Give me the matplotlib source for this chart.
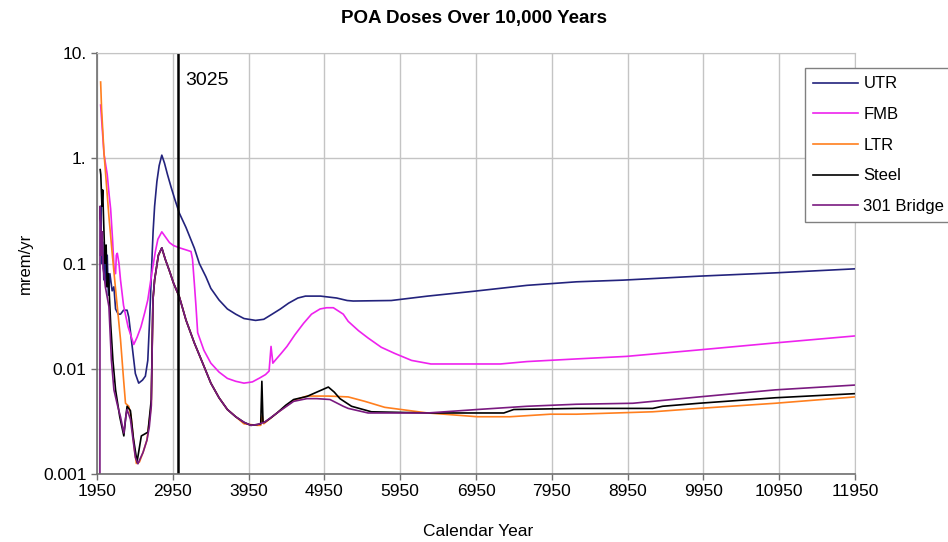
import matplotlib
matplotlib.use("Agg")
import matplotlib.pyplot as plt
from matplotlib.ticker import FixedLocator, FixedFormatter, NullLocator

plt.rcParams["font.family"] = ["Liberation Sans", "DejaVu Sans"]

# ---- data (calendar year, dose in mrem/yr) ----
utr_year = [1995, 2000, 2010, 2025, 2040, 2055, 2070, 2085, 2100, 2120, 2150, 2173,
            2195, 2230, 2260, 2300, 2347, 2369, 2420, 2456, 2500, 2550, 2588, 2620,
            2644, 2670, 2690, 2710, 2740, 2770, 2805, 2840, 2880, 2928, 2980, 3037,
            3124, 3234, 3300, 3386, 3452, 3560, 3670, 3780, 3889, 4042, 4150, 4260,
            4370, 4478, 4600, 4700, 4900, 5111, 5250, 5330, 5832, 6312, 6924, 7622,
            8277, 8889, 9892, 10898, 11950]
utr_dose = [0.12, 0.35, 0.10, 0.16, 0.07, 0.14, 0.06, 0.12, 0.05, 0.08, 0.055, 0.06,
            0.037, 0.033, 0.033, 0.036, 0.036, 0.031, 0.015, 0.009, 0.0073, 0.0078, 0.0085, 0.012,
            0.029, 0.09, 0.2, 0.35, 0.6, 0.85, 1.07, 0.9, 0.7, 0.53, 0.4, 0.3,
            0.22, 0.14, 0.1, 0.075, 0.058, 0.045, 0.037, 0.033, 0.030, 0.0288, 0.0295, 0.033,
            0.037, 0.042, 0.047, 0.049, 0.049, 0.047, 0.0445, 0.044, 0.0445, 0.049, 0.0545, 0.062,
            0.067, 0.0695, 0.0758, 0.0815, 0.089]

fmb_year = [1998, 2042, 2085, 2110, 2130, 2155, 2175, 2195, 2205, 2218, 2240, 2260,
            2300, 2360, 2435, 2480, 2530, 2579, 2620, 2660, 2688, 2720, 2753, 2805,
            2850, 2906, 2960, 3037, 3120, 3190, 3210, 3234, 3255, 3278, 3360, 3452,
            3560, 3670, 3780, 3889, 4000, 4100, 4173, 4220, 4246, 4270, 4300, 4380,
            4456, 4560, 4675, 4780, 4893, 4980, 5068, 5199, 5264, 5400, 5526, 5700,
            5876, 6100, 6355, 7272, 7622, 8277, 8932, 9892, 10898, 11950]
fmb_dose = [3.2, 1.1, 0.7, 0.45, 0.33, 0.17, 0.09, 0.08, 0.12, 0.125, 0.1, 0.07,
            0.04, 0.025, 0.017, 0.02, 0.025, 0.034, 0.045, 0.07, 0.094, 0.13, 0.17, 0.2,
            0.18, 0.158, 0.148, 0.141, 0.135, 0.13, 0.11, 0.065, 0.04, 0.022, 0.015, 0.0113,
            0.0093, 0.0081, 0.0076, 0.0073, 0.0075, 0.0082, 0.0088, 0.0095, 0.0163, 0.0113, 0.012, 0.014,
            0.0163, 0.021, 0.027, 0.033, 0.037, 0.038, 0.038, 0.033, 0.0282, 0.023, 0.0196, 0.016,
            0.014, 0.012, 0.0111, 0.0111, 0.0117, 0.0124, 0.0131, 0.0151, 0.0176, 0.0205]

ltr_year = [1998, 2010, 2042, 2107, 2150, 2195, 2260, 2300, 2326, 2369, 2400, 2440,
            2469, 2510, 2557, 2609, 2666, 2688, 2710, 2760, 2805, 2850, 2906, 2960,
            3037, 3124, 3234, 3340, 3452, 3560, 3670, 3780, 3889, 4063, 4110, 4129,
            4150, 4325, 4544, 4718, 4806, 5002, 5264, 5484, 5746, 5963, 6312, 6530,
            6967, 7400, 7930, 8277, 9281, 9892, 10898, 11950]
ltr_dose = [5.3, 3.0, 1.13, 0.28, 0.126, 0.057, 0.019, 0.008, 0.0047, 0.0044, 0.0035, 0.0018,
            0.00126, 0.0013, 0.0016, 0.0021, 0.0045, 0.045, 0.07, 0.12, 0.14, 0.11, 0.085, 0.065,
            0.048, 0.029, 0.0176, 0.0115, 0.0073, 0.0053, 0.0041, 0.0035, 0.003, 0.0029, 0.0029, 0.0036,
            0.003, 0.0038, 0.005, 0.0055, 0.0055, 0.0055, 0.0054, 0.0049, 0.0043, 0.0041, 0.0038, 0.0037,
            0.0035, 0.0035, 0.0037, 0.0037, 0.0039, 0.0042, 0.0047, 0.0054]

steel_year = [1992, 2000, 2015, 2025, 2042, 2055, 2070, 2085, 2100, 2130, 2160, 2195,
              2250, 2304, 2330, 2347, 2391, 2430, 2478, 2535, 2580, 2622, 2666, 2688,
              2710, 2760, 2805, 2850, 2906, 2960, 3037, 3124, 3234, 3340, 3452, 3560,
              3670, 3780, 3889, 3980, 4063, 4110, 4125, 4140, 4160, 4240, 4325, 4440,
              4544, 4718, 4850, 5002, 5080, 5155, 5308, 5570, 6312, 7317, 7448, 8277,
              9281, 9412, 9892, 10898, 11950]
steel_dose = [0.78, 0.7, 0.35, 0.5, 0.2, 0.1, 0.15, 0.06, 0.08, 0.027, 0.012, 0.0063,
              0.0035, 0.0023, 0.0035, 0.0044, 0.004, 0.0022, 0.0013, 0.0023, 0.0024, 0.0025, 0.0051, 0.045,
              0.07, 0.12, 0.141, 0.11, 0.085, 0.065, 0.048, 0.029, 0.0176, 0.0115, 0.0073, 0.0053,
              0.0041, 0.0035, 0.0031, 0.0029, 0.00295, 0.003, 0.0076, 0.0031, 0.0031, 0.0034, 0.0038, 0.0045,
              0.0051, 0.00545, 0.006, 0.0067, 0.006, 0.0052, 0.0044, 0.0039, 0.0038, 0.0038, 0.0041, 0.0042,
              0.0042, 0.0044, 0.0047, 0.0053, 0.0058]

bridge_year = [1988, 1990, 2000, 2010, 2020, 2030, 2042, 2060, 2080, 2107, 2140, 2173,
               2220, 2260, 2304, 2330, 2347, 2391, 2430, 2456, 2490, 2520, 2557, 2609,
               2640, 2666, 2688, 2710, 2760, 2805, 2850, 2906, 2960, 3037, 3124, 3234,
               3340, 3452, 3560, 3670, 3780, 3889, 3980, 4063, 4160, 4325, 4544, 4718,
               4850, 5024, 5199, 5264, 5526, 6312, 6967, 7622, 8277, 9020, 9892, 10898,
               11950]
bridge_dose = [0.0001, 0.35, 0.25, 0.12, 0.2, 0.09, 0.08, 0.06, 0.05, 0.039, 0.012, 0.0063,
               0.0045, 0.0035, 0.00245, 0.0035, 0.0041, 0.0033, 0.002, 0.00144, 0.00125, 0.0014, 0.0016, 0.0021,
               0.0028, 0.0044, 0.045, 0.07, 0.12, 0.141, 0.11, 0.085, 0.065, 0.048, 0.029, 0.0176,
               0.0115, 0.0073, 0.0053, 0.0041, 0.0035, 0.0031, 0.0029, 0.00295, 0.0031, 0.0038, 0.0049, 0.0052,
               0.0052, 0.0051, 0.0044, 0.0042, 0.0038, 0.0038, 0.0041, 0.0044, 0.0046, 0.0047, 0.0054, 0.0063,
               0.0070]

x_ticks = list(range(1950, 11951, 1000))
y_ticks = [0.001, 0.01, 0.1, 1, 10]
y_labels = ["0.001", "0.01", "0.1", "1.", "10."]
marker_year = 3025

# ---- figure ----
fig = plt.figure(figsize=(9.48, 5.42), dpi=100)
ax = fig.add_axes([97 / 948, 1 - 474 / 542, (855 - 97) / 948, (474 - 53) / 542])

ax.set_yscale("log")
ax.set_xlim(1950, 11950)
ax.set_ylim(0.001, 10)

ax.xaxis.set_major_locator(FixedLocator(x_ticks))
ax.yaxis.set_major_locator(FixedLocator(y_ticks))
ax.yaxis.set_major_formatter(FixedFormatter(y_labels))
ax.yaxis.set_minor_locator(NullLocator())
ax.grid(True, color="#c4c4c4", lw=1.0)
ax.set_axisbelow(True)
ax.tick_params(labelsize=12.5, length=4, width=1, color="#707070", pad=3.5)

for s in ("top", "right"):
    ax.spines[s].set_color("#c4c4c4")
for s in ("left", "bottom"):
    ax.spines[s].set_color("#707070")
    ax.spines[s].set_linewidth(1.2)

lw = 1.2
ax.plot(utr_year, utr_dose, color="#23237d", lw=lw, label="UTR")
ax.plot(fmb_year, fmb_dose, color="#ee22ee", lw=lw, label="FMB")
ax.plot(ltr_year, ltr_dose, color="#ff7f1e", lw=lw, label="LTR")
ax.plot(steel_year, steel_dose, color="black", lw=lw, label="Steel")
ax.plot(bridge_year, bridge_dose, color="#7a1a80", lw=lw, label="301 Bridge")

ax.axvline(marker_year, color="black", lw=1.8)
ax.annotate(str(marker_year), xy=(marker_year, 1.0), xycoords=("data", "axes fraction"),
            xytext=(5, -20), textcoords="offset points", fontsize=14, va="center", ha="left")

fig.text(0.5, 1 - 18 / 542, "POA Doses Over 10,000 Years", ha="center", va="center",
         fontsize=13.5, fontweight="bold")
fig.text(478 / 948, 1 - 531 / 542, "Calendar Year", ha="center", va="center", fontsize=12.5)
fig.text(25 / 948, 1 - 263 / 542, "mrem/yr", ha="center", va="center", rotation=90,
         fontsize=12)

# legend hugs the right edge of the figure, as in the reference
leg = ax.legend(loc="upper left", bbox_to_anchor=(805 / 948, 1 - 68 / 542),
                bbox_transform=fig.transFigure, fontsize=12, frameon=True, fancybox=False,
                framealpha=1, edgecolor="#808080", borderaxespad=0, handlelength=2.7,
                handletextpad=0.3, labelspacing=0.94, borderpad=0.5)
leg.get_frame().set_linewidth(1.0)

fig.savefig("out.png", dpi=100)
